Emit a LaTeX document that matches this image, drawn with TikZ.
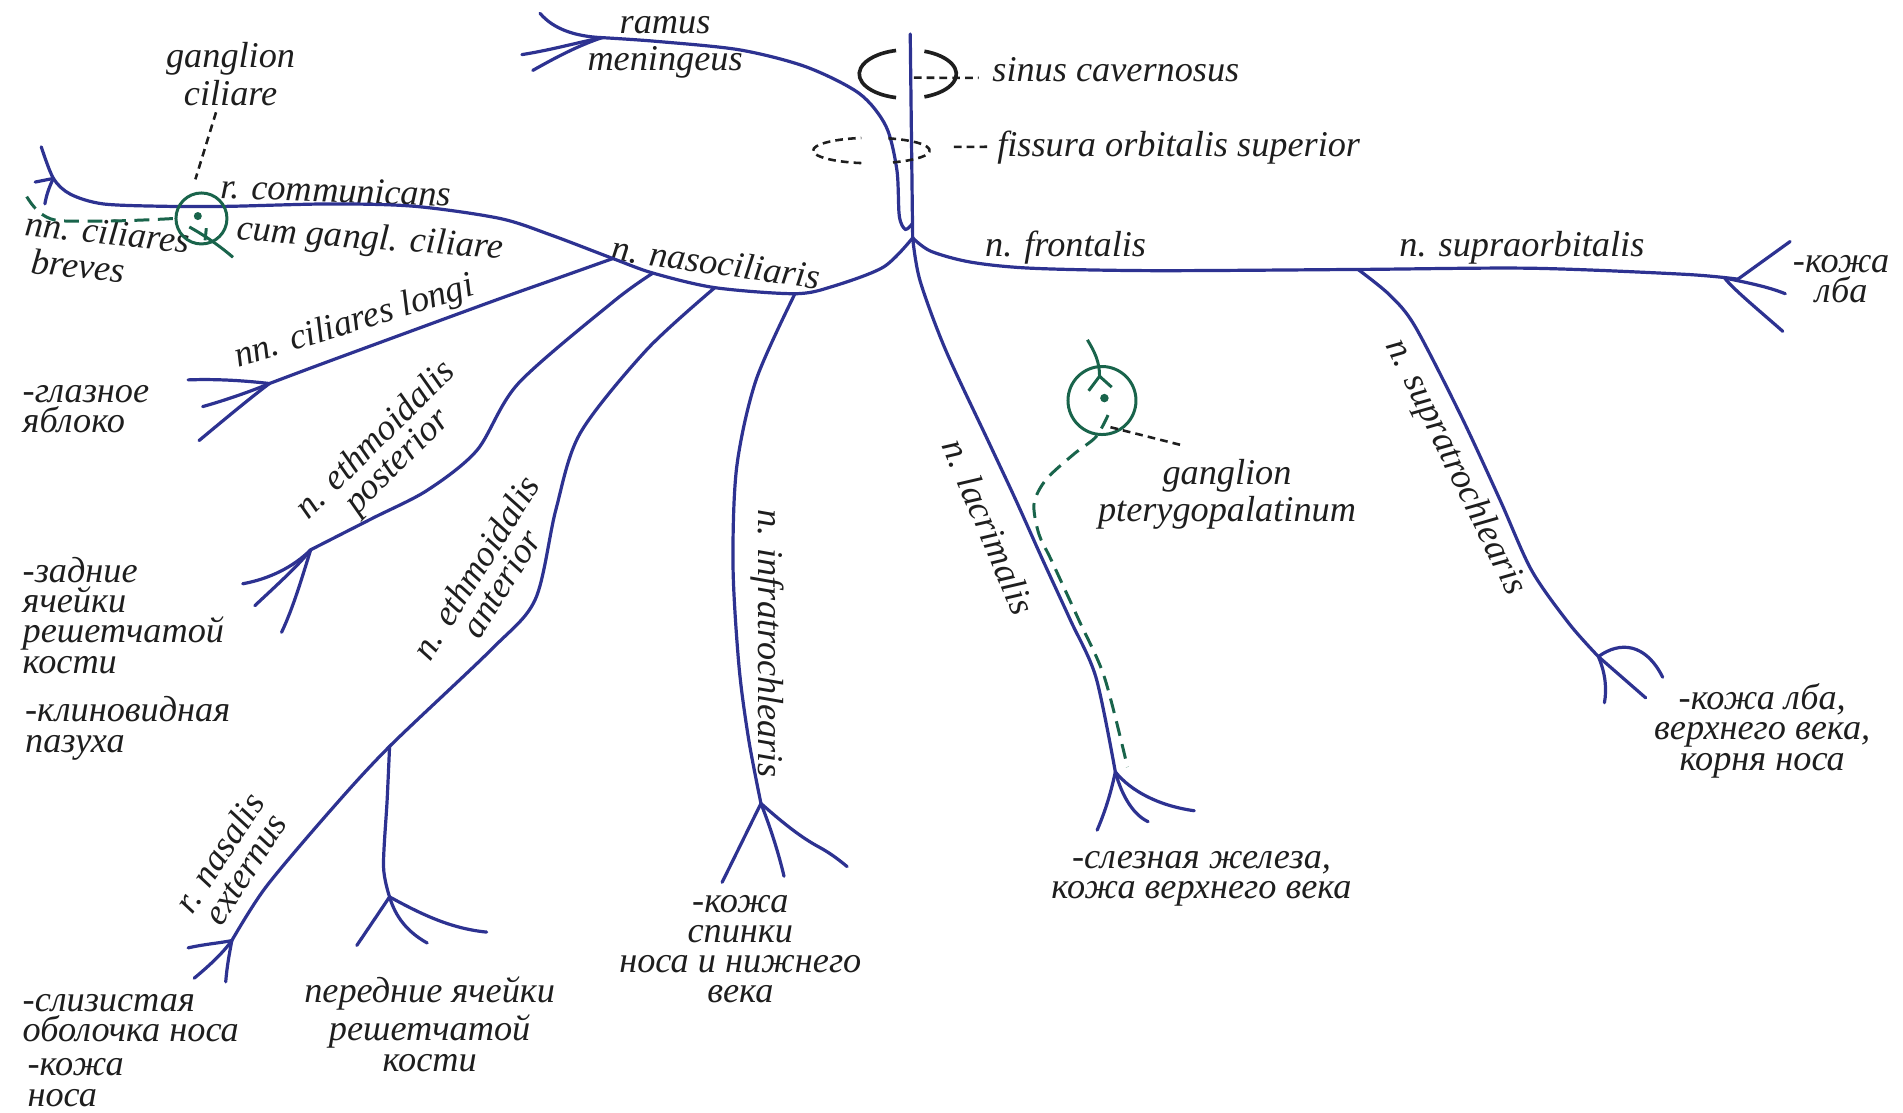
\documentclass[tikz,border=0pt]{standalone}
\usepackage{fontspec}
\setmainfont{Liberation Serif}
\definecolor{nblue}{RGB}{45,50,145}
\definecolor{ggreen}{RGB}{25,100,75}
\definecolor{ink}{RGB}{30,30,30}

\begin{document}
\begin{tikzpicture}[x=0.01cm, y=-0.01cm,
        nerve/.style={draw=nblue, line width=0.75pt, line cap=round},
        gang/.style={draw=ggreen, line width=0.7pt},
        gdash/.style={gang, dash pattern=on 3.5pt off 2pt},
        lead/.style={draw=ink, line width=0.6pt, dash pattern=on 1.8pt off 1.2pt},
        sinus/.style={draw=ink, line width=0.85pt},
        txt/.style={text=ink, font=\itshape\fontsize{8.5}{7.1}\selectfont, inner sep=0pt},
        txtl/.style={txt, align=left},
        txtc/.style={txt, align=center}
      ]
      \useasboundingbox[fill=white] (0,0) rectangle (1568,917);

      \coordinate (top) at (750,28);
      \coordinate (mj) at (752,184);
      \coordinate (j) at (752,196);
      \coordinate (mf) at (496,31);
      \coordinate (b1) at (655,242);
      \coordinate (b2) at (589,237);
      \coordinate (b3) at (538,225);
      \coordinate (b4) at (505,213);
      \coordinate (cf) at (44,147);
      \coordinate (lf) at (222,316);
      \coordinate (pf) at (256,453);
      \coordinate (ea) at (321,615);
      \coordinate (rf) at (191,775);
      \coordinate (af) at (321,739);
      \coordinate (tf) at (627,662);
      \coordinate (lcf) at (919,636);
      \coordinate (st) at (1119,222);
      \coordinate (ff) at (1432,230);
      \coordinate (ff2) at (1421,229);
      \coordinate (sf) at (1317,541);
      \coordinate (sc) at (748,61);
      \coordinate (fc) at (718,124);

      \node[txtc] (ram) at (548,39) {ramus\\[1.4pt]meningeus};
      \node[txt, anchor=base west] (sin) at (817,67) {sinus cavernosus};
      \node[txt, anchor=base west] (fis) at (821,129) {fissura orbitalis superior};
      \node[txtc] (gcl) at (190,61) {ganglion\\ciliare};
      \node[txt, rotate=-2] (rcom) at (277,157) {r. communicans};
      \node[txt, rotate=-4] (cum) at (305,198) {cum gangl. ciliare};
      \node[txtl, rotate=-6, anchor=west] (ncb) at (19,199) {nn. ciliares\\[1.4pt]\hspace*{2.3pt}breves};
      \node[txt, rotate=-8] (naso) at (590,216) {n. nasociliaris};
      \node[txt] (nfr) at (878,204) {n. frontalis};
      \node[txt] (nso) at (1254,204) {n. supraorbitalis};
      \node[txtc] (klb1) at (1517,230) {-кожа\\лба};
      \node[txt, rotate=17] (ncl) at (292,266) {nn. ciliares longi};
      \node[txtl, anchor=west] (glz) at (18,337) {-глазное\\яблоко};
      \node[txtc, rotate=45] (nep) at (319,372) {n. ethmoidalis\\posterior};
      \node[txtl, anchor=west] (zad) at (18,507) {-задние\\ячейки\\решетчатой\\кости};
      \node[txtc, rotate=58] (nea) at (402,474) {n. ethmoidalis\\anterior};
      \node[txtl, anchor=west] (kln) at (20,600) {-клиновидная\\пазуха};
      \node[txtc, rotate=57] (rne) at (191,709) {r. nasalis\\externus};
      \node[txtl, anchor=west] (slz) at (18,839) {-слизистая\\оболочка носа};
      \node[txtl, anchor=west] (kns) at (22,892) {-кожа\\носа};
      \node[txtc] (pja) at (354,844) {передние ячейки\\решетчатой\\кости};
      \node[txtc] (ksp) at (610,782) {-кожа\\спинки\\носа и нижнего\\века};
      \node[txt, rotate=-90] (nit) at (632,530) {n. infratrochlearis};
      \node[txt, rotate=-67] (nlc) at (815,434) {n. lacrimalis};
      \node[txtc] (gpt) at (1011,407) {ganglion\\pterygopalatinum};
      \node[txtc] (slz2) at (990,724) {-слезная железа,\\кожа верхнего века};
      \node[txt, rotate=-64] (nst) at (1199,385) {n. supratrochlearis};
      \node[txtc] (klb) at (1452,602) {-кожа лба,\\верхнего века,\\корня носа};

      \draw[nerve] (top) -- (j);
      \draw[nerve] plot[smooth] coordinates {(mj) (746,189) (741,178) (739,140) (730,104) (708,77) (664,55) (609,41) (540,34) (mf)};
      \draw[nerve] (445,11) .. controls (456,24) and (474,30) .. (mf);
      \draw[nerve] (430,45) .. controls (455,41) and (476,35) .. (mf);
      \draw[nerve] (439,58) .. controls (455,49) and (475,38) .. (mf);

      \draw[nerve] plot[smooth] coordinates {(j) (728,220) (686,236) (b1) (b2) (b3) (b4) (455,194) (412,180) (342,170) (273,168) (188,170) (137,170) (85,168) (58,160) (cf) (34,121)};
      \draw[nerve] (cf) -- (29,150);
      \draw[nerve] (cf) .. controls (40,155) and (38,162) .. (37,168);

      \draw[nerve] plot[smooth] coordinates {(b4) (460,229) (412,246) (330,276) (262,301) (lf)};
      \draw[nerve] (155,313) .. controls (180,312) and (205,314) .. (lf);
      \draw[nerve] (167,335) .. controls (185,330) and (208,322) .. (lf);
      \draw[nerve] (164,363) .. controls (182,348) and (206,328) .. (lf);

      \draw[nerve] plot[smooth] coordinates {(b3) (506,248) (427,316) (393,371) (352,404) (307,427) (pf)};
      \draw[nerve] (200,481) .. controls (222,477) and (242,467) .. (pf);
      \draw[nerve] (210,499) .. controls (226,484) and (246,466) .. (pf);
      \draw[nerve] (232,521) .. controls (242,500) and (250,472) .. (pf);

      \draw[nerve] plot[smooth] coordinates {(b2) (533,288) (478,357) (458,420) (441,494) (405,535) (ea) (273,667) (219,731) (rf)};
      \draw[nerve] (155,781) .. controls (168,778) and (181,777) .. (rf);
      \draw[nerve] (160,806) .. controls (172,796) and (183,786) .. (rf);
      \draw[nerve] (186,809) .. controls (187,796) and (189,786) .. (rf);
      \draw[nerve] plot[smooth] coordinates {(ea) (319,659) (316,714) (af)};
      \draw[nerve] (af) -- (294,779);
      \draw[nerve] (af) .. controls (326,756) and (336,768) .. (352,777);
      \draw[nerve] (af) .. controls (345,752) and (370,765) .. (401,768);

      \draw[nerve] plot[smooth] coordinates {(b1) (623,313) (607,385) (604,467) (609,550) (617,610) (tf)};
      \draw[nerve] (tf) -- (595,727);
      \draw[nerve] (tf) .. controls (636,685) and (642,705) .. (646,722);
      \draw[nerve] (tf) .. controls (645,678) and (660,690) .. (675,698) .. controls (686,704) and (693,710) .. (698,714);

      \draw[nerve] plot[smooth] coordinates {(j) (758,231) (779,288) (815,365) (837,412) (859,461) (882,511) (903,558) (lcf)};
      \draw[nerve] (lcf) .. controls (915,655) and (910,670) .. (904,684);
      \draw[nerve] (lcf) .. controls (925,658) and (935,672) .. (946,677);
      \draw[nerve] (lcf) .. controls (932,652) and (955,664) .. (984,668);

      \draw[nerve] plot[smooth] coordinates {(j) (767,207) (800,216) (850,221) (950,223) (st) (1261,221) (1388,226) (ff)};
      \draw[nerve] (ff) -- (1475,199);
      \draw[nerve] (ff2) .. controls (1440,233) and (1456,236) .. (1471,242);
      \draw[nerve] (ff2) .. controls (1428,238) and (1445,252) .. (1469,273);

      \draw[nerve] plot[smooth] coordinates {(st) (1145,243) (1166,269) (1204,343) (1236,412) (1262,470) (1293,514) (sf)};
      \draw[nerve] (sf) .. controls (1323,555) and (1324,568) .. (1322,579);
      \draw[nerve] (sf) -- (1356,575);
      \draw[nerve] (sf) .. controls (1335,528) and (1356,530) .. (1370,558);

      \draw[sinus] ([shift={(104:40 and 20)}]sc) arc[start angle=104, end angle=256, x radius=40, y radius=20];
      \draw[sinus] ([shift={(-70:40 and 20)}]sc) arc[start angle=-70, end angle=70, x radius=40, y radius=20];
      \draw[lead] ([shift={(100:48 and 10.5)}]fc) arc[start angle=100, end angle=260, x radius=48, y radius=10.5];
      \draw[lead] ([shift={(-73:48 and 10.5)}]fc) arc[start angle=-73, end angle=73, x radius=48, y radius=10.5];
      \draw[lead] (753,64) -- ([xshift=-3pt,yshift=0.8pt]sin.base west);
      \draw[lead] (786,121) -- ([xshift=-1.3pt,yshift=2.3pt]fis.base west);

      \node[circle, gang, minimum size=0.42cm, inner sep=0pt] (gc) at (166,180) {};
      \fill[ggreen] (163,178) circle[radius=3.3];
      \draw[gang] (156,187) .. controls (165,192) and (178,200) .. (192,212);
      \draw[gang] (170,188) -- (169,198);
      \draw[gdash] (22,162) .. controls (30,175) and (38,181) .. (50,182) .. controls (90,183) and (125,181) .. (gc.west);
      \draw[lead] ([xshift=-0.12cm,yshift=-0.05cm]gcl.south) -- ([xshift=-0.05cm,yshift=0.1cm]gc.north);

      \node[circle, gang, minimum size=0.56cm, inner sep=0pt] (gp) at (908,330) {};
      \fill[ggreen] (910,328) circle[radius=3.5];
      \draw[gang] (896,280) .. controls (902,290) and (906,298) .. (906,310) coordinate (gy);
      \draw[gang] (gy) -- (897,322);
      \draw[gang] (gy) -- (916,319);
      \draw[gdash] plot[smooth] coordinates {(913,342) (903,360) (885,374) (862,395) (852,415) (856,440) (866,461) (889,511) (910,558) (929,632)};
      \draw[lead] (915,352) -- ([xshift=-0.35cm,yshift=0.1cm]gpt.north);
\end{tikzpicture}
\end{document}
